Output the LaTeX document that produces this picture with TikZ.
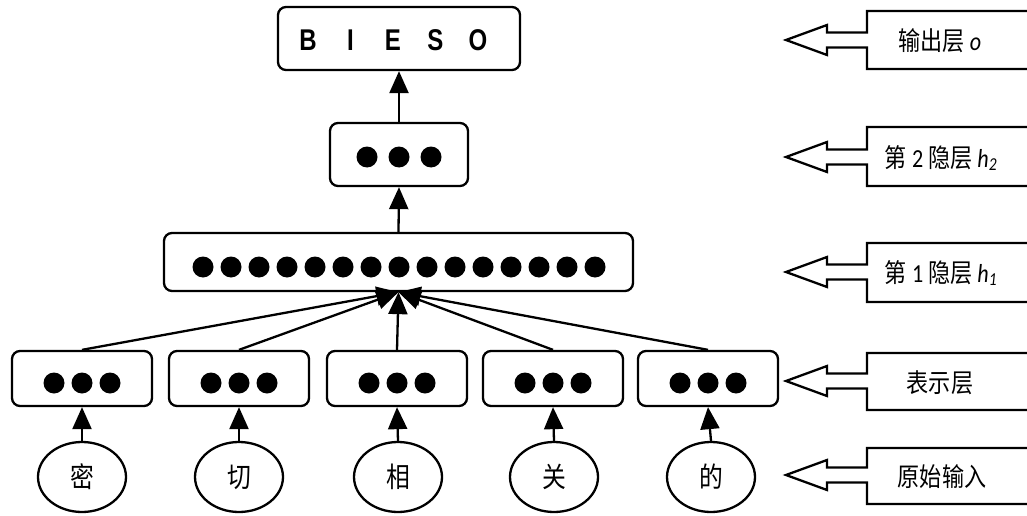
\documentclass[tikz,border=0pt]{standalone}
\usepackage{fontspec}
\setmainfont[FakeStretch=0.85]{Carlito}
\newfontfamily\cjk[FakeStretch=0.85]{Noto Sans CJK SC}
\newfontfamily\bsans[FakeStretch=0.8]{Liberation Sans}
\usetikzlibrary{arrows.meta,shapes.geometric}
\begin{document}
\begin{tikzpicture}[x=1pt,y=-1pt,line width=2.3pt,
  layerbox/.style={draw,rounded corners=8pt,inner sep=0pt},
  wordnode/.style={draw,ellipse,minimum width=88pt,minimum height=70pt,inner sep=0pt,
    font=\cjk\fontsize{28}{28}\selectfont},
  conn/.style={-{Triangle[length=22pt,width=19pt]}},
  neuron/.style={fill=black},
  tagtext/.style={inner sep=0pt,font=\fontsize{26}{26}\selectfont},
  tagshape/.style={draw,line width=2.3pt,fill=white}]
\clip (0,0) rectangle (1027,516);
\fill[white] (0,0) rectangle (1027,516);

% output layer
\node[layerbox,minimum width=242pt,minimum height=63pt] (out) at (399,38.5) {};
\node[inner sep=0pt,font=\bsans\bfseries\fontsize{30}{30}\selectfont] (outtxt) at (393,40)
  {\makebox[42.5pt]{B}\makebox[42.5pt]{I}\makebox[42.5pt]{E}\makebox[42.5pt]{S}\makebox[42.5pt]{O}};

% hidden layer 2
\node[layerbox,minimum width=138pt,minimum height=63pt] (h2) at (399,154.5) {};
\foreach \x in {367,399,431} \fill[neuron] (\x,157) circle (10.5pt);

% hidden layer 1
\node[layerbox,minimum width=469pt,minimum height=58pt] (h1) at (398.5,262) {};
\foreach \i in {0,...,14} \fill[neuron] (203+28*\i,267) circle (10.5pt);

% representation layer
\foreach \n/\x in {1/82,2/239,3/397,4/553,5/708}{
  \node[layerbox,minimum width=140pt,minimum height=55pt] (r\n) at (\x,378.5) {};
  \foreach \d in {-28,0,28} \fill[neuron] (\x+\d,383) circle (10.5pt);
}

% input words
\node[wordnode] (w1) at (82,477) {密};
\node[wordnode] (w2) at (239,477) {切};
\node[wordnode] (w3) at (398,477) {相};
\node[wordnode] (w4) at (554,477) {关};
\node[wordnode] (w5) at (711,477) {的};

% connectors
\foreach \n in {1,...,5}{
  \draw[conn] (w\n.north) -- (r\n.south);
  \draw[conn] (r\n.north) -- (h1.south);
}
\draw[conn] (h1.north) -- (h2.south);
\draw[conn] (h2.north) -- (out.south);

% right-hand tags
\foreach \yc/\yt/\yb in {40/11/69,157/127/186,272/243/302,381/353/410,475/448/504}{
  \draw[tagshape] (786,\yc) -- (827,\yc-15) -- (827,\yc-7.5) -- (867,\yc-7.5) -- (867,\yt)
    -- (1045,\yt) -- (1045,\yb) -- (867,\yb) -- (867,\yc+7.5) -- (827,\yc+7.5)
    -- (827,\yc+15) -- cycle;
}
\node[tagtext] (t1) at (940,41) {{\cjk 输出层} \textit{o}};
\node[tagtext] (t2) at (941,158) {{\cjk 第} 2 {\cjk 隐层} \textit{h\textsubscript{2}}};
\node[tagtext] (t3) at (941,273) {{\cjk 第} 1 {\cjk 隐层} \textit{h\textsubscript{1}}};
\node[tagtext] (t4) at (940,383) {\cjk 表示层};
\node[tagtext] (t5) at (942,477) {\cjk 原始输入};
\end{tikzpicture}
\end{document}
